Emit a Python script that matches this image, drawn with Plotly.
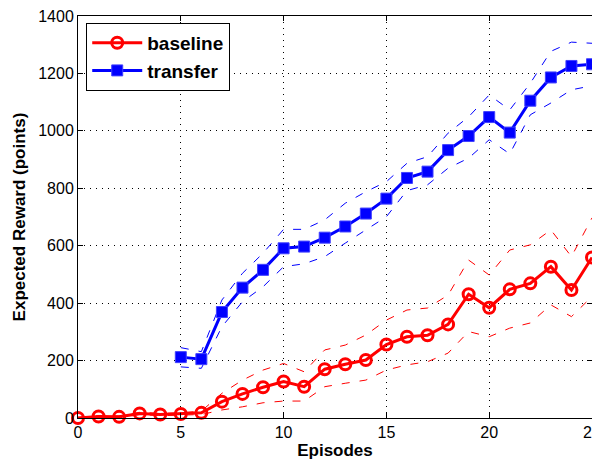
import plotly.graph_objects as go

episodes = list(range(0, 26))
baseline_mean = [0, 5, 4, 16, 12, 14, 18, 57, 84, 107, 127, 109, 170, 187, 202, 256, 283, 288, 326, 431, 384, 448, 469, 527, 446, 559]
baseline_upper = [2, 8, 7, 20, 16, 18, 24, 86, 132, 167, 190, 161, 237, 254, 289, 341, 376, 383, 428, 550, 498, 585, 603, 655, 562, 697]
baseline_lower = [0, 2, 1, 12, 8, 10, 12, 28, 39, 53, 59, 59, 109, 121, 132, 167, 185, 196, 226, 301, 283, 313, 331, 394, 353, 423]

transfer_episodes = list(range(5, 26))
transfer_mean = [212, 205, 369, 454, 516, 591, 597, 628, 667, 712, 764, 836, 858, 933, 982, 1048, 994, 1105, 1186, 1226, 1232]
transfer_upper = [245, 231, 411, 504, 574, 657, 657, 690, 748, 788, 823, 887, 910, 992, 1049, 1125, 1073, 1166, 1277, 1309, 1305]
transfer_lower = [178, 173, 318, 405, 457, 527, 537, 562, 609, 655, 701, 792, 812, 870, 905, 969, 920, 1056, 1097, 1143, 1157]

RED = "#ff0000"
BLUE = "#0000ff"
FONT = "Liberation Sans, Arial, Helvetica, sans-serif"

fig = go.Figure()
for y in (baseline_upper, baseline_lower):
    fig.add_trace(go.Scatter(x=episodes, y=y, mode="lines", showlegend=False,
                             line=dict(color=RED, width=1, dash="8px,10px"), hoverinfo="skip"))
for y in (transfer_upper, transfer_lower):
    fig.add_trace(go.Scatter(x=transfer_episodes, y=y, mode="lines", showlegend=False,
                             line=dict(color=BLUE, width=1, dash="8px,10px"), hoverinfo="skip"))

fig.add_trace(go.Scatter(x=episodes, y=baseline_mean, mode="lines+markers", name="<b>baseline</b>",
                         line=dict(color=RED, width=3), cliponaxis=False,
                         marker=dict(symbol="circle-open", size=11, color=RED, line=dict(width=3, color=RED))))
fig.add_trace(go.Scatter(x=transfer_episodes, y=transfer_mean, mode="lines+markers", name="<b>transfer</b>",
                         line=dict(color=BLUE, width=3), cliponaxis=False,
                         marker=dict(symbol="square", size=11, color=BLUE, line=dict(width=1, color="#4040ff"))))

axis_common = dict(showline=True, linecolor="black", linewidth=1, mirror="ticks",
                   ticks="inside", ticklen=5, tickcolor="black", automargin=False,
                   ticklabeloverflow="allow",
                   showgrid=True, gridcolor="black", gridwidth=1, griddash="1px,5px",
                   zeroline=False, tickfont=dict(family=FONT, size=16, color="black"))

fig.update_xaxes(range=[0, 25], dtick=5, tick0=0,
                 title=dict(text="<b>Episodes</b>", font=dict(family=FONT, size=17, color="black"), standoff=3),
                 **axis_common)
fig.update_yaxes(range=[0, 1400], dtick=200, tick0=0,
                 title=dict(text="<b>Expected Reward (points)</b>", font=dict(family=FONT, size=17, color="black"), standoff=8),
                 **axis_common)

fig.update_layout(
    width=592, height=453,
    margin=dict(l=70, r=8, t=8, b=43),
    plot_bgcolor="white", paper_bgcolor="white",
    font=dict(family=FONT, color="black"),
    legend=dict(x=0.016, y=0.983, xanchor="left", yanchor="top",
                bgcolor="white", bordercolor="black", borderwidth=1,
                font=dict(family=FONT, size=19, color="black"),
                itemwidth=50, tracegroupgap=0),
    showlegend=True,
)

fig.write_html("out.html")
